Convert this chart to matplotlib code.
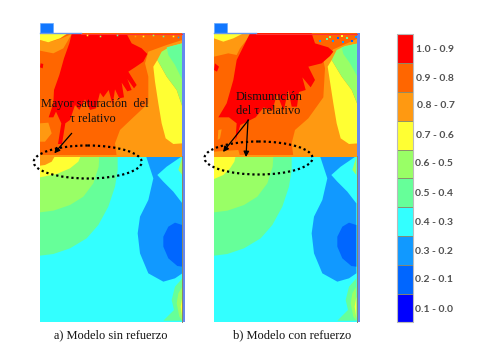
import matplotlib
matplotlib.use('Agg')
import matplotlib.pyplot as plt
from matplotlib.patches import Polygon, Rectangle, Ellipse

# contour bands, highest first
band_labels = ['1.0 - 0.9', '0.9 - 0.8', '0.8 - 0.7', '0.7 - 0.6', '0.6 - 0.5',
               '0.5 - 0.4', '0.4 - 0.3', '0.3 - 0.2', '0.2 - 0.1', '0.1 - 0.0']
band_colors = ['#FF0000', '#FF6600', '#FF9911', '#FFFF33', '#99FF66',
               '#66FF99', '#33FFFF', '#1199FF', '#0066FF', '#0000FF']
RED, OR1, OR2, YEL, GRN, MNT, CYN, BL1, BL2, BL3 = band_colors

# outlines, in 3x pixels of the reference
# upper block, model a
a_top = [
    (OR2, [(60,90),(85,97),(125,85),(155,72),(130,115),(100,130),(60,122)]),
    (YEL, [(60,72),(140,72),(120,85),(85,97),(60,90)]),
    (OR2, [(385,125),(440,105),(487,90),(487,438),(290,438),(285,400),(300,360),(340,322),(385,280),(385,200),(375,160)]),
    (YEL, [(400,170),(412,150),(440,200),(470,240),(487,290),(487,400),(460,402),(437,385),(425,340),(415,280),(405,215)]),
    (GRN, [(412,150),(425,125),(450,110),(487,100),(487,290),(470,240),(440,200)]),
    (MNT, [(440,112),(487,100),(487,210),(465,165),(445,135)]),
    (OR2, [(60,340),(85,338),(95,370),(75,395),(60,395)]),
    (RED, [(155,72),(320,72),(335,100),(365,115),(382,132),(370,155),(345,172),(325,185),(350,225),
           (342,235),(322,207),(335,240),(322,244),(305,218),(312,262),(298,265),(285,238),(278,285),
           (266,240),(250,262),(240,248),(228,295),(210,300),(195,268),(178,300),(165,285),(150,330),
           (136,340),(126,402),(114,402),(124,340),(108,305),(100,322),(86,322),(100,280),(102,240),
           (118,195),(132,145),(148,100)]),
    (RED, [(345,112),(358,118),(352,128),(342,122)]),
    (RED, [(62,160),(70,162),(68,175),(60,172)]),
]
# upper block, model b
b_top = [
    (OR2, [(57,70),(170,70),(135,115),(125,135),(100,130),(57,140)]),
    (YEL, [(57,70),(145,70),(115,85),(85,95),(57,85)]),
    (OR2, [(70,360),(80,358),(75,385),(68,390)]),
    (OR2, [(57,425),(130,420),(135,438),(57,438)]),
    (OR2, [(415,118),(490,85),(490,438),(295,438),(290,400),(300,360),(340,325),(385,262),(390,175),(385,150)]),
    (YEL, [(398,170),(410,150),(440,200),(470,240),(490,290),(490,400),(462,402),(437,385),(425,340),(415,280),(405,215)]),
    (GRN, [(410,150),(425,120),(450,108),(490,100),(490,290),(470,240),(440,200)]),
    (MNT, [(440,112),(490,100),(490,205),(465,160),(445,132)]),
    (RED, [(165,70),(350,70),(360,100),(400,112),(415,125),(405,138),(380,160),(340,170),(360,210),
           (347,232),(322,202),(332,240),(312,246),(306,290),(290,290),(280,240),(266,302),(246,252),
           (232,302),(206,292),(182,322),(136,345),(121,395),(125,340),(102,322),(70,322),(95,280),
           (115,210),(125,150),(150,100)]),
    (RED, [(60,160),(72,170),(66,185),(57,180)]),
]
# lower block, same for both models apart from the left edge
low_bands = [
    (MNT, [(0,438),(233,438),(233,480),(225,530),(205,590),(175,645),(140,685),(90,715),(40,732),(0,737)]),
    (GRN, [(0,438),(178,438),(176,470),(160,520),(130,560),(90,585),(40,602),(0,607)]),
    (BL1, [(318,438),(340,505),(325,570),(300,620),(293,670),(300,730),(325,790),(370,815),(405,805),
           (427,790),(427,580),(400,545),(370,515),(352,495),(380,470),(427,438)]),
    (BL2, [(405,638),(385,650),(370,680),(370,710),(385,745),(412,768),(427,770),(427,645)]),
    (GRN, [(427,440),(415,480),(427,495)]),
    (MNT, [(427,805),(405,830),(395,870),(402,900),(370,932),(427,932)]),
    (GRN, [(427,830),(415,850),(410,880),(418,920),(427,932)]),
    (YEL, [(427,860),(422,890),(427,925)]),
]
a_low = [
    (YEL, [(60,438),(182,438),(175,455),(150,475),(110,492),(60,502)]),
    (OR2, [(60,438),(105,438),(95,455),(75,465),(60,467)]),
]
b_low = [
    (YEL, [(57,438),(122,438),(118,455),(105,475),(85,495),(57,507)]),
]

# speckle along the top edge: x, y, colour
a_noise = [(200,76,YEL),(240,77,GRN),(290,75,MNT),(345,79,OR2),(370,77,YEL),(400,76,GRN),(430,79,MNT),(460,77,YEL),(475,81,BL1)]
b_noise = [(375,92,BL1),(395,88,MNT),(415,92,BL1),(430,85,BL2),(445,95,BL1),(455,85,MNT),(470,92,BL2),(482,82,BL1),(405,80,GRN),(440,78,YEL)]

texts_a = ['Mayor saturación  del', 'τ relativo']
texts_b = ['Dismunución', 'del τ relativo']
captions = ['a) Modelo sin refuerzo', 'b) Modelo con refuerzo']


def px(x0, pts):
    return [(x0 + x / 3, 10 + y / 3) for x, y in pts]


def draw_panel(ax, x0, left, top_regions, extra):
    right = 487
    ax.add_patch(Rectangle((x0 + left / 3, 33), (right - left) / 3, 123, fc=OR1, ec='none'))
    ax.add_patch(Rectangle((x0 + left / 3, 156), (right - left) / 3, 166, fc=CYN, ec='none'))
    for col, pts in top_regions:
        ax.add_patch(Polygon(px(x0, pts), fc=col, ec='none'))
    for col, pts in low_bands:
        shifted = [(x + left, y) for x, y in pts]
        ax.add_patch(Polygon(px(x0, shifted), fc=col, ec='none'))
    for col, pts in extra:
        ax.add_patch(Polygon(px(x0, pts), fc=col, ec='none'))
    # band between upper and lower block
    ax.add_patch(Rectangle((x0 + left / 3, 155.3), (right - left) / 3, 1.2, fc=OR2, ec='none'))
    # right hand strip
    ax.add_patch(Rectangle((x0 + right / 3, 33), 3, 289, fc='#6688EE', ec='none'))
    ax.plot([x0 + right / 3] * 2, [156, 322], color='#888866', lw=0.7)
    ax.add_patch(Rectangle((x0 + left / 3, 23), 13.5, 10, fc='#1177FF', ec='#66AAFF', lw=0.5))
    ax.plot([x0 + left / 3, x0 + 183 / 3], [33, 33], color='#6699EE', lw=1)
    ax.plot([x0 + 183 / 3, x0 + right / 3], [33.5, 33.5], color='#FF3333', lw=0.8)


plt.rcParams['font.family'] = ['Liberation Serif', 'DejaVu Sans']
fig = plt.figure(figsize=(4.85, 3.62), dpi=100)
ax = fig.add_axes([0, 0, 1, 1])
ax.set_xlim(0, 485)
ax.set_ylim(362, 0)
ax.axis('off')

draw_panel(ax, 20, 60, a_top, a_low)
draw_panel(ax, 195, 57, b_top, b_low)

for x, y, c in a_noise:
    ax.plot(20 + x / 3, 10 + y / 3, 's', ms=1.1, color=c, mew=0)
for x, y, c in b_noise:
    ax.plot(195 + x / 3, 10 + y / 3, 's', ms=1.8, color=c, mew=0)

# dotted ellipses
ax.add_patch(Ellipse((87.7, 162), 108, 33, fc='none', ec='black', lw=1.6, ls=(0, (1, 1.3))))
ax.add_patch(Ellipse((258.5, 158), 108, 33, fc='none', ec='black', lw=1.6, ls=(0, (1, 1.3))))

# arrows
arrow = dict(arrowstyle='-|>', color='black', lw=0.9, mutation_scale=8, shrinkA=0, shrinkB=0)
ax.annotate('', xy=(54.3, 153.3), xytext=(71.7, 133.3), arrowprops=arrow)
ax.annotate('', xy=(223, 152), xytext=(248.5, 120), arrowprops=arrow)
ax.annotate('', xy=(246, 157), xytext=(248, 120), arrowprops=arrow)

ax.text(94.5, 104, texts_a[0], ha='center', va='center', fontsize=8.8, color='#111111')
ax.text(93, 119, texts_a[1], ha='center', va='center', fontsize=8.8, color='#111111')
ax.text(236, 97, texts_b[0], ha='left', va='center', fontsize=8.9, color='#111111')
ax.text(236, 111, texts_b[1], ha='left', va='center', fontsize=8.9, color='#111111')
ax.text(111, 335, captions[0], ha='center', va='center', fontsize=8.9, color='#111111')
ax.text(291.7, 335, captions[1], ha='center', va='center', fontsize=9, color='#111111')

# legend
leg_y = [49.7, 78.7, 106, 135.3, 163.3, 194, 222.7, 251, 280, 309]
leg_x = [415.7, 416.3, 417.3, 416, 415, 414.7, 415.3, 415.3, 414.7, 415.3]
cell_h = 28.8
for i, (lab, col) in enumerate(zip(band_labels, band_colors)):
    ax.add_patch(Rectangle((396.7, 34.3 + i * cell_h), 16, cell_h, fc=col, ec='#8a8a6a', lw=0.6))
    ax.text(leg_x[i], leg_y[i], lab, ha='left', va='center', fontsize=7.5,
            family=['Lato', 'DejaVu Sans'], fontweight='bold', color='#505050')
ax.add_patch(Rectangle((396.7, 34.3), 16, 288, fc='none', ec='#bbbbbb', lw=0.8))

fig.savefig('out.png', dpi=100)
